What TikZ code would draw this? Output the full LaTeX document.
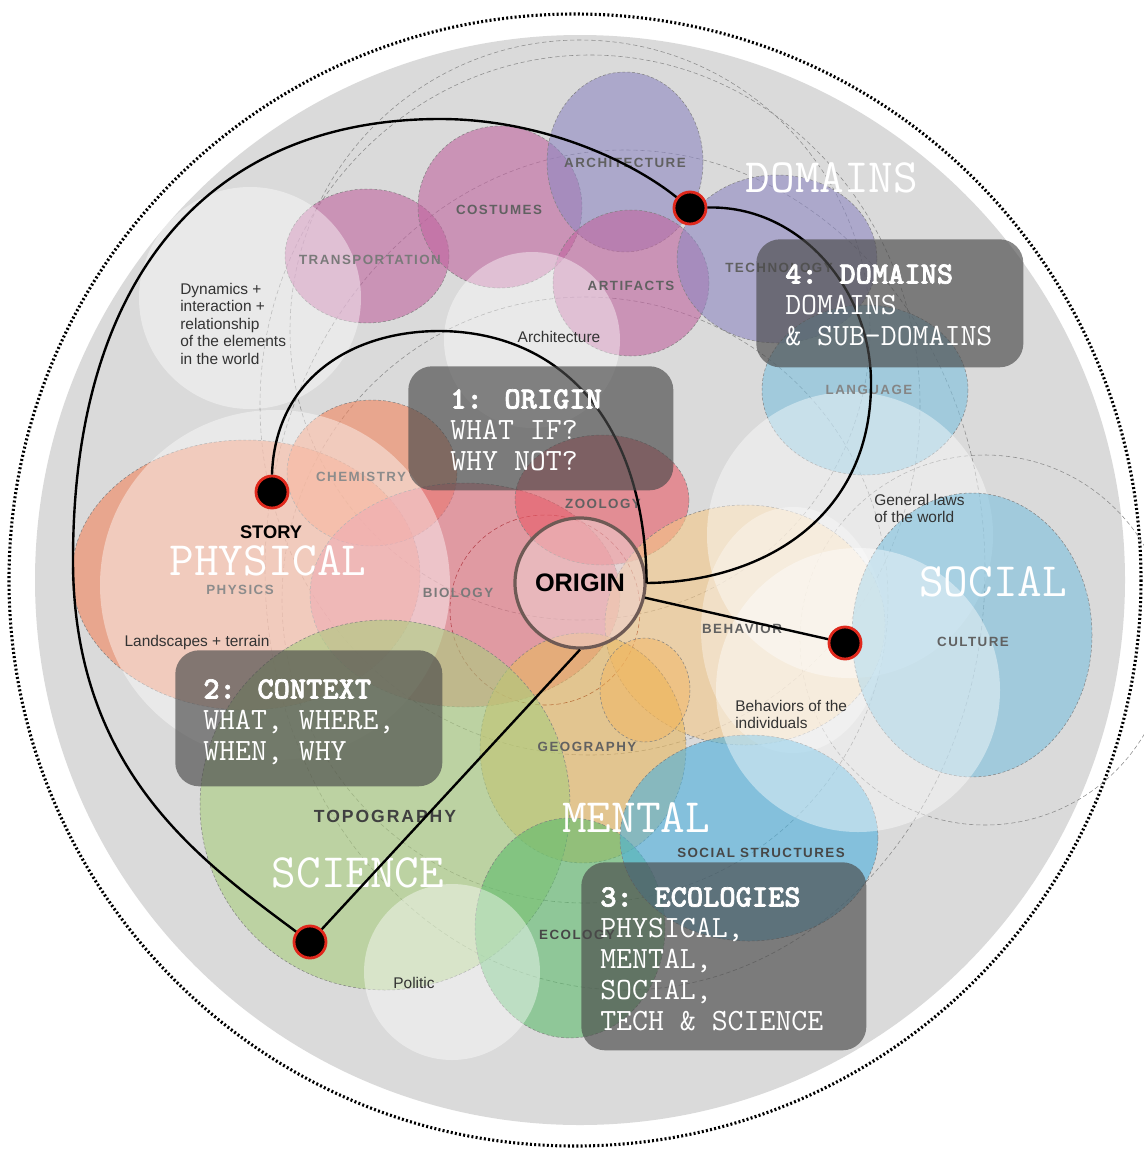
\documentclass[tikz,border=0pt]{standalone}
\usepackage{fontspec}
\setsansfont{Liberation Sans}
\newfontfamily\capsfont[LetterSpace=11]{Liberation Sans}
\newfontfamily\cardbold[FakeBold=2.2]{lmmonolt10-bold.otf}
\usetikzlibrary{positioning}

\definecolor{baseGray}{HTML}{DADADA}
\definecolor{domPurple}{HTML}{8E88C2}
\definecolor{domMagenta}{HTML}{C0649F}
\definecolor{socBlue}{HTML}{7CC0DE}
\definecolor{socCyan}{HTML}{4BB0DE}
\definecolor{menOrange}{HTML}{F5C887}
\definecolor{lensOrange}{HTML}{F4B45C}
\definecolor{geoYellow}{HTML}{E8B860}
\definecolor{sciGreen}{HTML}{A9CD7E}
\definecolor{ecoGreen}{HTML}{5DBB6C}
\definecolor{phySalmon}{HTML}{F2845C}
\definecolor{bioRose}{HTML}{E4707E}
\definecolor{zooRed}{HTML}{E85A66}
\definecolor{cardGray}{HTML}{4A4A4A}
\definecolor{dotRed}{HTML}{E0281C}
\definecolor{originRim}{HTML}{6E5A55}
\definecolor{originFill}{HTML}{EFD0D0}

\begin{document}
\begin{tikzpicture}[x=0.025cm,y=-0.025cm,
    blob/.style={draw=black!50,dash pattern=on 2pt off 1.5pt,line width=0.35pt,fill opacity=0.6},
    veil/.style={fill=white,fill opacity=0.42},
    guide/.style={draw=black!45,dash pattern=on 3pt off 2pt,line width=0.4pt},
    card/.style={fill=cardGray,fill opacity=0.66,rounded corners=17pt,inner sep=0pt,anchor=north west},
    cardtext/.style={text=white,font=\ttfamily\fontsize{22}{22}\selectfont,align=left,inner sep=0pt,anchor=north west},
    tag/.style={font=\capsfont\bfseries\fontsize{9.5}{10}\selectfont,text=black!62,inner sep=0pt},
    big/.style={font=\ttfamily\fontsize{34}{34}\selectfont,text=white,inner sep=0pt},
    note/.style={font=\sffamily\fontsize{11}{12.4}\selectfont,text=black!80,align=left,inner sep=0pt},
    dot/.style={circle,fill=black,draw=dotRed,line width=2pt,minimum size=0.8cm,inner sep=0pt},
    link/.style={line width=1.7pt,draw=black}]
  \useasboundingbox (0,0) rectangle (1144,1152);
  % frame
  \draw[line width=2.2pt,dash pattern=on 1.4pt off 1.6pt] (575,580) circle [radius=566];
  \fill[baseGray] (580,580) circle [radius=545];
  % dashed guides
  \draw[guide] (580,330) circle [radius=290];
  \draw[guide] (585,600) circle [radius=303];
  \draw[guide] (625,570) ellipse [x radius=360, y radius=420];
  \draw[guide] (590,405) ellipse [x radius=330, y radius=350];
  \draw[guide] (985,640) circle [radius=185];
  \draw[guide,draw=red!45!black] (545,610) circle [radius=95];
  % physical
  \path[blob,fill=phySalmon] (246,575) ellipse [x radius=174, y radius=135];
  \path[blob,fill=phySalmon] (372,473) ellipse [x radius=85, y radius=73];
  \path[blob,fill=bioRose] (465,595) ellipse [x radius=155, y radius=112];
  \path[veil] (275,585) circle [radius=175];
  \path[blob,fill=zooRed] (602,500) ellipse [x radius=87, y radius=65];
  % domains
  \path[blob,fill=domMagenta] (367,256) ellipse [x radius=82, y radius=67];
  \path[blob,fill=domMagenta] (500,207) ellipse [x radius=82, y radius=81];
  \path[blob,fill=domPurple] (625,162) ellipse [x radius=78, y radius=90];
  \path[blob,fill=domMagenta] (631,283) ellipse [x radius=78, y radius=73];
  \path[blob,fill=domPurple] (777,259) ellipse [x radius=100, y radius=84];
  \path[veil] (250,298) circle [radius=111];
  \path[veil] (532,340) circle [radius=88];
  % mental
  \path[blob,fill=menOrange] (745,625) ellipse [x radius=140, y radius=120];
  \path[veil,fill opacity=0.35] (793,630) ellipse [x radius=92, y radius=123];
  \path[blob,fill=geoYellow] (583,748) ellipse [x radius=103, y radius=115];
  \path[blob,fill=lensOrange,fill opacity=0.45] (645,690) ellipse [x radius=45, y radius=52];
  % science
  \path[blob,fill=sciGreen] (385,805) circle [radius=185];
  \path[blob,fill=ecoGreen] (570,928) ellipse [x radius=95, y radius=110];
  \path[veil] (452,972) circle [radius=88];
  % social
  \path[blob,fill=socBlue] (865,390) ellipse [x radius=103, y radius=85];
  \path[veil] (850,535) circle [radius=143];
  \path[blob,fill=socBlue] (972,635) ellipse [x radius=120, y radius=142];
  \path[blob,fill=socCyan] (749,838) ellipse [x radius=129, y radius=103];
  \path[veil] (858,690) circle [radius=142];
  % origin
  \node[circle,draw=originRim,line width=2.3pt,fill=originFill,fill opacity=0.55,text opacity=1,
    minimum size=3.25cm,inner sep=0pt,font=\sffamily\bfseries\fontsize{18}{18}\selectfont] (origin) at (580,583) {ORIGIN};
  % sub-domain tags
  \node[tag] (archtag) at (625,163) {ARCHITECTURE};
  \node[tag] (costtag) at (499,210) {COSTUMES};
  \node[tag,text=black!52] (transtag) at (370,260) {TRANSPORTATION};
  \node[tag] (artitag) at (631,286) {ARTIFACTS};
  \node[tag] (techtag) at (779,268) {TECHNOLOGY};
  \node[tag,text=black!48] (langtag) at (869,390) {LANGUAGE};
  \node[tag,text=black!45] (chemtag) at (361,477) {CHEMISTRY};
  \node[tag] (zootag) at (603,504) {ZOOLOGY};
  \node[tag,text=black!45] (phystag) at (240,590) {PHYSICS};
  \node[tag,text=black!52] (biotag) at (458,593) {BIOLOGY};
  \node[tag] (behtag) at (742,629) {BEHAVIOR};
  \node[tag] (culttag) at (973,642) {CULTURE};
  \node[tag] (geotag) at (587,747) {GEOGRAPHY};
  \node[tag,text=black!75,font=\capsfont\bfseries\fontsize{12.5}{13}\selectfont] (topotag) at (385,816) {TOPOGRAPHY};
  \node[tag,text=black!72] (structag) at (761,853) {SOCIAL STRUCTURES};
  \node[tag,text=black!72] (ecotag) at (577,935) {ECOLOGY};
  % notes
  \node[note,anchor=north west] (dynnote) at (180,283) {Dynamics +\\interaction +\\relationship\\of the elements\\in the world};
  \node[note] (archnote) at (559,337) {Architecture};
  \node[note,anchor=north west] (lawnote) at (874,494) {General laws\\of the world};
  \node[note] (landnote) at (197,642) {Landscapes + terrain};
  \node[note,anchor=north west] (behnote) at (735,700) {Behaviors of the\\individuals};
  \node[note] (polnote) at (414,983) {Politic};
  % ecologies
  \node[big] (domlbl) at (832,178) {DOMAINS};
  \node[big] (physlbl) at (268,561) {PHYSICAL};
  \node[big] (soclbl) at (993,582) {SOCIAL};
  \node[big] (menlbl) at (636,818) {MENTAL};
  \node[big] (scilbl) at (358,873) {SCIENCE};
  \node[font=\sffamily\bfseries\fontsize{13}{13}\selectfont,inner sep=0pt] (storylbl) at (271,532) {STORY};
  % path
  \node[dot] (story) at (272,492) {};
  \node[dot] (domains) at (690,208) {};
  \node[dot] (social) at (845,643) {};
  \node[dot] (science) at (310,942) {};
  \draw[link] (story.north) .. controls (275,380) and (350,331) .. (440,331)
    .. controls (560,332) and (645,420) .. (origin.east);
  \draw[link] (science) .. controls (200,860) and (73,770) .. (73,560)
    .. controls (73,268) and (217,119) .. (440,119) .. controls (540,119) and (630,160) .. (domains);
  \draw[link] (domains) .. controls (800,205) and (872,290) .. (871,385)
    .. controls (870,520) and (760,582) .. (origin.east);
  \draw[link] (origin) -- (social);
  \draw[link] (origin.south) -- (science);
  % steps
  \node[card,minimum width=6.625cm,minimum height=3.1cm] (origincard) at (408,366) {};
  \node[card,minimum width=6.675cm,minimum height=3.4cm] (contextcard) at (175,650) {};
  \node[card,minimum width=7.125cm,minimum height=4.7cm] (ecocard) at (581,862) {};
  \node[card,minimum width=6.675cm,minimum height=3.2cm] (domaincard) at (756,239) {};
  \node[cardtext] (origintxt) at ([shift={(42,23)}]origincard.north west) {{\cardbold 1: ORIGIN}\\WHAT IF?\\WHY NOT?};
  \node[cardtext] (contexttxt) at ([shift={(28,29)}]contextcard.north west) {{\cardbold 2: CONTEXT}\\WHAT, WHERE,\\WHEN, WHY};
  \node[cardtext] (ecotxt) at ([shift={(19,25)}]ecocard.north west) {{\cardbold 3: ECOLOGIES}\\PHYSICAL,\\MENTAL,\\SOCIAL,\\TECH \& SCIENCE};
  \node[cardtext] (domaintxt) at ([shift={(29,25)}]domaincard.north west) {{\cardbold 4: DOMAINS}\\DOMAINS\\\& SUB-DOMAINS};
\end{tikzpicture}
\end{document}
